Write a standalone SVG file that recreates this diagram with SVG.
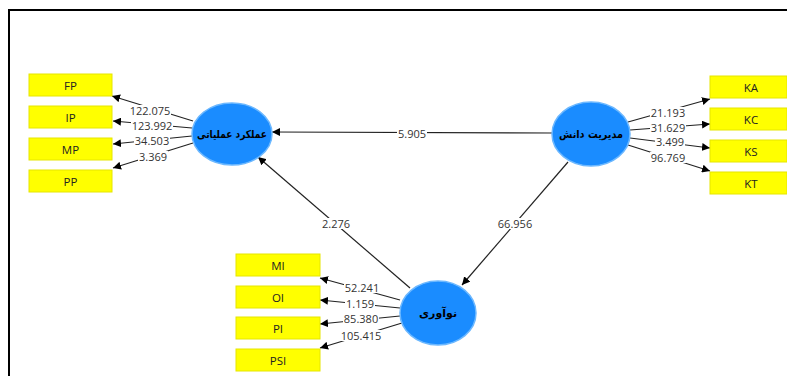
<svg xmlns="http://www.w3.org/2000/svg" width="787" height="376" viewBox="0 0 787 376">
<style>
.frame{fill:none;stroke:#000;stroke-width:2}
.box{fill:#ffff00;stroke:#e6e600;stroke-width:1}
.bt{font-family:"Open Sans","Noto Sans",sans-serif;font-size:11.5px;fill:#222;text-anchor:middle;dominant-baseline:central}
.lv{fill:#1a8cff;stroke:#6cb8ff;stroke-width:1.5}
.lt{font-family:"DejaVu Sans",sans-serif;font-size:11px;font-weight:bold;fill:#000;text-anchor:middle;dominant-baseline:central}
.ln{stroke:#222;stroke-width:1.2;fill:none;marker-end:url(#ah)}
.bg{fill:#fff}
.nl{font-family:"Open Sans","Noto Sans",sans-serif;font-size:11px;fill:#333;text-anchor:middle;dominant-baseline:central}
</style>
<defs>
<marker id="ah" viewBox="0 0 10 10" refX="10" refY="5" markerWidth="8" markerHeight="8" markerUnits="userSpaceOnUse" orient="auto">
<path d="M0,0 L10,5 L0,10 z" fill="#000"/>
</marker>
</defs>
<rect width="787" height="376" fill="#fff"/>
<path class="frame" d="M9,376 V10 H787"/>
<g id="connectors">
<line class="ln" x1="193" y1="121" x2="112" y2="96"/>
<line class="ln" x1="192" y1="128" x2="113" y2="121"/>
<line class="ln" x1="192" y1="136" x2="113" y2="144"/>
<line class="ln" x1="193" y1="143" x2="113" y2="168"/>
<line class="ln" x1="628" y1="122" x2="710" y2="99"/>
<line class="ln" x1="630" y1="130" x2="710" y2="124"/>
<line class="ln" x1="630" y1="138" x2="710" y2="148"/>
<line class="ln" x1="628" y1="145" x2="710" y2="171"/>
<line class="ln" x1="552" y1="133" x2="272" y2="132"/>
<line class="ln" x1="410" y1="288" x2="258" y2="157"/>
<line class="ln" x1="568" y1="162" x2="462" y2="285"/>
<line class="ln" x1="400" y1="300" x2="320" y2="278"/>
<line class="ln" x1="400" y1="308" x2="320" y2="300"/>
<line class="ln" x1="400" y1="316" x2="320" y2="324"/>
<line class="ln" x1="402" y1="323" x2="320" y2="348"/>
<rect class="bg" x="129" y="105" width="42" height="11"/>
<rect class="bg" x="131" y="120" width="42" height="11"/>
<rect class="bg" x="134" y="135" width="36" height="11"/>
<rect class="bg" x="138" y="151" width="30" height="11"/>
<rect class="bg" x="650" y="107" width="36" height="11"/>
<rect class="bg" x="650" y="122" width="36" height="11"/>
<rect class="bg" x="655" y="136" width="30" height="11"/>
<rect class="bg" x="650" y="152" width="36" height="11"/>
<rect class="bg" x="397" y="128" width="30" height="11"/>
<rect class="bg" x="321" y="218" width="30" height="11"/>
<rect class="bg" x="497" y="218" width="36" height="11"/>
<rect class="bg" x="344" y="282" width="36" height="11"/>
<rect class="bg" x="345" y="298" width="30" height="11"/>
<rect class="bg" x="343" y="313" width="36" height="11"/>
<rect class="bg" x="340" y="330" width="42" height="11"/>
<text class="nl" x="150" y="110">122.075</text>
<text class="nl" x="152" y="125">123.992</text>
<text class="nl" x="152" y="140">34.503</text>
<text class="nl" x="153" y="156">3.369</text>
<text class="nl" x="668" y="112">21.193</text>
<text class="nl" x="668" y="127">31.629</text>
<text class="nl" x="670" y="141">3.499</text>
<text class="nl" x="668" y="157">96.769</text>
<text class="nl" x="412" y="133">5.905</text>
<text class="nl" x="336" y="223">2.276</text>
<text class="nl" x="515" y="223">66.956</text>
<text class="nl" x="362" y="287.5">52.241</text>
<text class="nl" x="360" y="303">1.159</text>
<text class="nl" x="361" y="318">85.380</text>
<text class="nl" x="361" y="335">105.415</text>
</g>
<g id="FP"><rect class="box" x="29" y="74" width="83" height="22"/><text class="bt" x="70.5" y="85">FP</text></g>
<g id="IP"><rect class="box" x="29" y="106" width="83" height="22"/><text class="bt" x="70.5" y="117">IP</text></g>
<g id="MP"><rect class="box" x="29" y="138" width="83" height="22"/><text class="bt" x="70.5" y="149">MP</text></g>
<g id="PP"><rect class="box" x="29" y="170" width="83" height="22"/><text class="bt" x="70.5" y="181">PP</text></g>
<g id="KA"><rect class="box" x="710" y="76" width="77" height="22"/><text class="bt" x="751" y="87">KA</text></g>
<g id="KC"><rect class="box" x="710" y="108" width="77" height="22"/><text class="bt" x="751" y="119">KC</text></g>
<g id="KS"><rect class="box" x="710" y="140" width="77" height="22"/><text class="bt" x="751" y="151">KS</text></g>
<g id="KT"><rect class="box" x="710" y="172" width="77" height="22"/><text class="bt" x="751" y="183">KT</text></g>
<g id="MI"><rect class="box" x="236" y="254" width="84" height="22"/><text class="bt" x="278" y="265">MI</text></g>
<g id="OI"><rect class="box" x="236" y="286" width="84" height="22"/><text class="bt" x="278" y="297">OI</text></g>
<g id="PI"><rect class="box" x="236" y="317" width="84" height="22"/><text class="bt" x="278" y="328">PI</text></g>
<g id="PSI"><rect class="box" x="236" y="349" width="84" height="22"/><text class="bt" x="278" y="360">PSI</text></g>
<g id="op"><ellipse class="lv" cx="232" cy="134" rx="40" ry="31"/><text class="lt" x="232" y="134" textLength="70" lengthAdjust="spacingAndGlyphs">عملکرد عملیاتی</text></g>
<g id="km"><ellipse class="lv" cx="591" cy="134" rx="39" ry="32"/><text class="lt" x="591" y="134" textLength="64" lengthAdjust="spacingAndGlyphs">مدیریت دانش</text></g>
<g id="inn"><ellipse class="lv" cx="438" cy="313" rx="38" ry="32"/><text class="lt" x="438" y="313">نوآوری</text></g>
</svg>
